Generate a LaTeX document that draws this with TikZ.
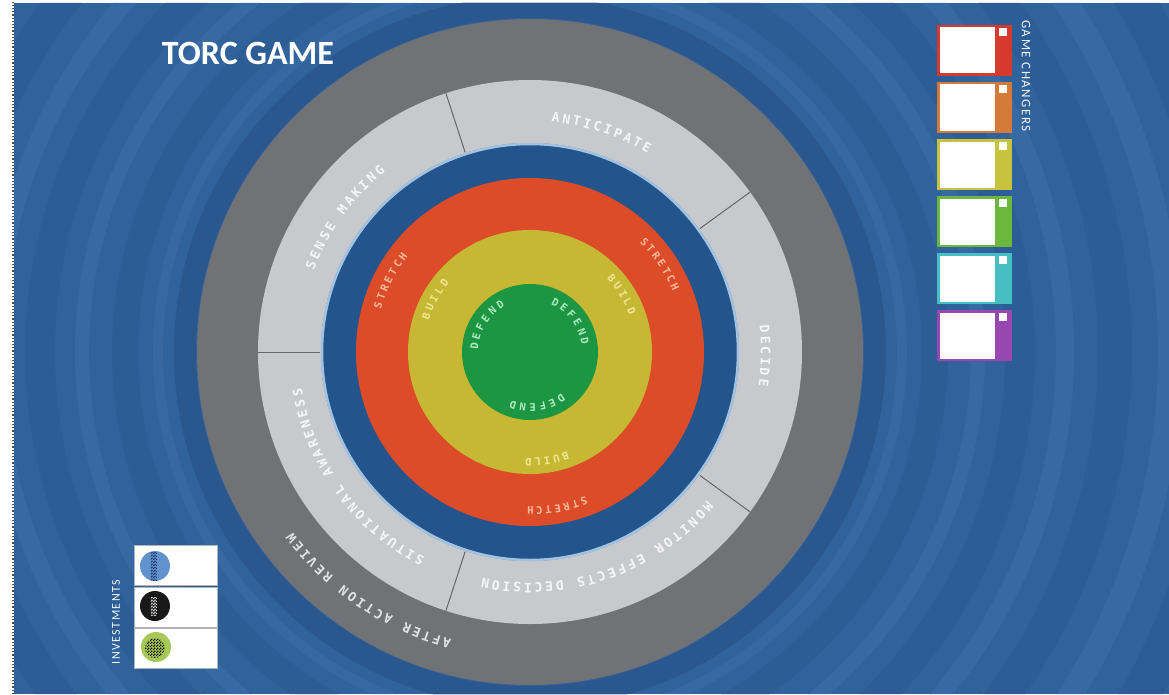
\documentclass[tikz,border=0pt]{standalone}
\usepackage{fontspec}
\setmainfont{Carlito}
\newfontfamily\ringfont{DejaVu Sans Mono}
\newfontfamily\sidefont[LetterSpace=12]{Carlito}
\usetikzlibrary{patterns}

\definecolor{bgblue}{RGB}{48,98,156}
\definecolor{swirllight}{RGB}{100,155,215}
\definecolor{swirldark}{RGB}{26,58,102}
\definecolor{outergray}{RGB}{113,114,117}
\definecolor{phasegray}{RGB}{200,201,204}
\definecolor{ringblue}{RGB}{36,84,140}
\definecolor{edgeblue}{RGB}{160,195,225}
\definecolor{stretchred}{RGB}{221,76,40}
\definecolor{buildyellow}{RGB}{199,184,52}
\definecolor{defendgreen}{RGB}{28,150,66}
\definecolor{stretchtext}{RGB}{250,185,155}
\definecolor{buildtext}{RGB}{242,230,150}
\definecolor{defendtext}{RGB}{175,235,190}
\definecolor{labelwhite}{RGB}{246,246,246}
\definecolor{gcred}{RGB}{214,58,46}
\definecolor{gcorange}{RGB}{214,122,58}
\definecolor{gcyellow}{RGB}{200,195,62}
\definecolor{gcgreen}{RGB}{108,184,62}
\definecolor{gcteal}{RGB}{70,190,195}
\definecolor{gcpurple}{RGB}{150,72,176}
\definecolor{cardgray}{RGB}{175,178,182}
\definecolor{invblue}{RGB}{96,146,206}
\definecolor{invnavy}{RGB}{20,40,90}
\definecolor{invgreen}{RGB}{165,200,86}

\pgfdeclarepatternformonly{finecheck}{\pgfpointorigin}{\pgfqpoint{3pt}{3pt}}{\pgfqpoint{3pt}{3pt}}{%
  \pgfpathrectangle{\pgfpointorigin}{\pgfqpoint{1.5pt}{1.5pt}}%
  \pgfpathrectangle{\pgfqpoint{1.5pt}{1.5pt}}{\pgfqpoint{1.5pt}{1.5pt}}%
  \pgfusepath{fill}}

\newcommand{\outerfont}{\ringfont\bfseries\fontsize{13}{15}\selectfont}
\newcommand{\innerfont}{\ringfont\bfseries\fontsize{10.5}{12}\selectfont}

% letters set clockwise round the centre, tops outward
% #1 style, #2 centre angle, #3 baseline radius, #4 letter pitch, #5 letters
\newcommand{\ringword}[5]{%
  \foreach \ch [count=\n] in {#5}{\xdef\ringn{\n}}%
  \pgfmathsetmacro{\ringstep}{#4/#3*57.2958}%
  \foreach \ch [count=\i] in {#5}{%
    \pgfmathsetmacro{\ringa}{#2+(\ringn+1)/2*\ringstep-\i*\ringstep}%
    \node[#1,anchor=base,rotate=\ringa-90] at (\ringa:#3) {\ch};}}

\tikzset{
  divider/.style={draw=black!60,line width=1pt},
  phaselabel/.style={text=labelwhite,font=\outerfont,inner sep=0pt},
  stretchlabel/.style={text=stretchtext,font=\innerfont,inner sep=0pt},
  buildlabel/.style={text=buildtext,font=\innerfont,inner sep=0pt},
  defendlabel/.style={text=defendtext,font=\innerfont,inner sep=0pt},
  sidelabel/.style={text=labelwhite,font=\sidefont\fontsize{12}{14}\selectfont,inner sep=0pt},
}

\begin{document}
\begin{tikzpicture}[x=1pt,y=1pt]
  \useasboundingbox (-530,-342) rectangle (639,352);
  \fill[white] (-530,-342) rectangle (639,352);
  \draw[black!70,dotted,line width=1.2pt] (-517,-342) -- (-517,352);

  % swirl background
  \begin{scope}
    \clip (-516,-342) rectangle (639,349);
    \fill[bgblue] (-516,-342) rectangle (639,349);
    \foreach \r/\w/\c/\o in {345/22/swirldark/0.25, 372/10/swirllight/0.12,
        405/26/swirldark/0.12, 448/14/swirllight/0.14, 490/30/swirldark/0.1,
        535/18/swirllight/0.15, 585/34/swirldark/0.1, 640/24/swirllight/0.15,
        700/40/swirldark/0.1, 760/26/swirllight/0.15, 820/50/swirldark/0.1}
      \draw[\c,line width=\w,opacity=\o] (0,0) circle (\r);
  \end{scope}

  \node[text=white,font=\bfseries\fontsize{34}{40}\selectfont] (title) at (-282,299) {TORC GAME};

  % target
  \fill[outergray] (0,0) circle (333);
  \fill[phasegray] (0,0) circle (272);
  \fill[ringblue] (0,0) circle (209);
  \draw[edgeblue,line width=2.5pt] (0,0) circle (208);
  \fill[stretchred] (0,0) circle (174);
  \fill[buildyellow] (0,0) circle (122);
  \fill[defendgreen] (0,0) circle (68);
  \foreach \a in {108,36,-36,-108,180}
    \draw[divider] (\a:210) -- (\a:272);

  \ringword{phaselabel}{72}{231}{10.5}{A,N,T,I,C,I,P,A,T,E}
  \ringword{phaselabel}{-1}{231}{10.5}{D,E,C,I,D,E}
  \ringword{phaselabel}{-71}{231}{10.5}{M,O,N,I,T,O,R,{},E,F,F,E,C,T,S,{},D,E,C,I,S,I,O,N}
  \ringword{phaselabel}{216}{231}{10.5}{S,I,T,U,A,T,I,O,N,A,L,{},A,W,A,R,E,N,E,S,S}
  \ringword{phaselabel}{144}{231}{10.5}{S,E,N,S,E,{},M,A,K,I,N,G}
  \ringword{phaselabel,text=labelwhite!92!black}{236}{298}{10.4}{A,F,T,E,R,{},A,C,T,I,O,N,{},R,E,V,I,E,W}

  \foreach \s in {153,34,-80}{
    \ringword{stretchlabel}{\s}{155}{8.9}{S,T,R,E,T,C,H}}
  \foreach \s in {151,32,-81}{
    \ringword{buildlabel}{\s}{106}{9.1}{B,U,I,L,D}}
  \foreach \s in {148,37,-82}{
    \ringword{defendlabel}{\s}{52}{9.4}{D,E,F,E,N,D}}

  % game changers
  \foreach \c [count=\i from 0] in {gcred,gcorange,gcyellow,gcgreen,gcteal,gcpurple}{
    \pgfmathsetmacro{\t}{327-57*\i}
    \fill[\c] (407,\t) rectangle (482,\t-51);
    \fill[white] (409.5,\t-2.5) rectangle (465,\t-48.5);
    \fill[white] (469,\t-3) rectangle (477,\t-11);
  }
  \node[sidelabel,rotate=-90,font=\sidefont\fontsize{13}{15}\selectfont] (gclabel) at (496,276) {GAME CHANGERS};

  % investments
  \foreach \y in {-193,-235,-276}
    \draw[cardgray,fill=white,line width=1pt] (-395,\y) rectangle (-312,\y-40);
  \fill[invblue] (-375,-214) circle (15);
  \fill[pattern=finecheck,pattern color=invnavy] (-379,-228) rectangle (-373,-200);
  \fill[black!90] (-375,-254) circle (15);
  \fill[pattern=finecheck,pattern color=white] (-379,-263) rectangle (-373,-245);
  \fill[invgreen] (-374,-295) circle (15);
  \fill[pattern=finecheck,pattern color=black] (-375,-296) circle (10);
  \node[sidelabel,rotate=90] (invlabel) at (-414,-270) {INVESTMENTS};
\end{tikzpicture}
\end{document}
